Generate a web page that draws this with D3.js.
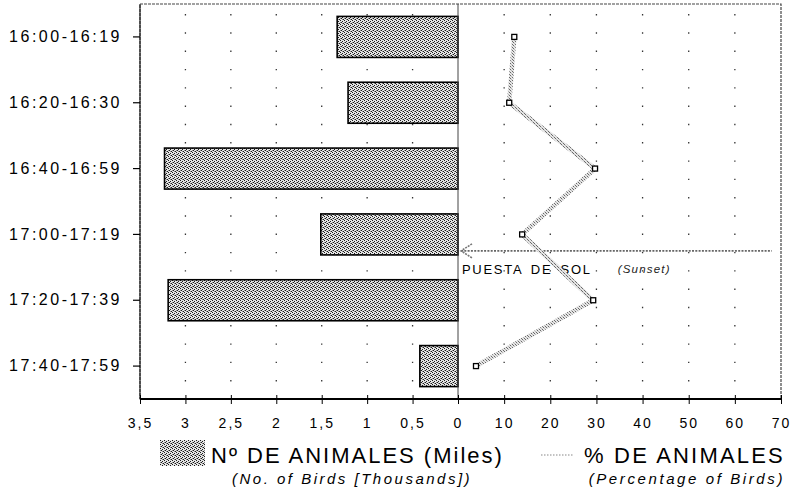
<!DOCTYPE html>
<html>
<head>
<meta charset="utf-8">
<script src="https://cdn.jsdelivr.net/npm/d3@7"></script>
<style>
  html, body { margin: 0; padding: 0; background: #fff; }
  svg { display: block; font-family: "Liberation Sans", Arial, Helvetica, sans-serif; }
</style>
</head>
<body>
<svg id="chart" width="795" height="491"></svg>
<script>
// Time intervals of the evening count
const categories = ["16:00-16:19", "16:20-16:30", "16:40-16:59", "17:00-17:19", "17:20-17:39", "17:40-17:59"];
// Number of birds per interval (thousands)
const birdsThousands = [1.33, 1.21, 3.23, 1.51, 3.19, 0.42];
// Share of all birds per interval (%)
const birdsPercent = [12.2, 11.1, 29.7, 13.9, 29.3, 3.9];
// Axis ticks
const countTicks = [3.5, 3, 2.5, 2, 1.5, 1, 0.5, 0];
const percentTicks = [10, 20, 30, 40, 50, 60, 70];
// Sunset, in minutes after midnight (17:15)
const sunsetMinutes = 17 * 60 + 15;
const timeSpan = [16 * 60, 18 * 60];

const svg = d3.select("#chart");
svg.append("rect").attr("width", 795).attr("height", 491).attr("fill", "#fff");

const plot = { left: 140, right: 781, top: 4, bottom: 399, center: 458 };

const xCount = d3.scaleLinear().domain([0, 3.5]).range([plot.center, plot.left]);
const xPct = d3.scaleLinear().domain([0, 70]).range([plot.center, plot.right]);
const y = d3.scaleBand().domain(categories).range([plot.top, plot.bottom])
  .paddingInner(0.377).paddingOuter(0.1885);
const yTime = d3.scaleLinear().domain(timeSpan).range([plot.top, plot.bottom]);

// Dithered fills
const defs = svg.append("defs");
const dither = defs.append("pattern").attr("id", "dither")
  .attr("width", 4).attr("height", 4).attr("patternUnits", "userSpaceOnUse");
dither.append("rect").attr("width", 4).attr("height", 4).attr("fill", "#e4e4e4");
[[0, 0], [2, 1], [1, 2], [3, 3]].forEach(([px, py]) =>
  dither.append("rect").attr("x", px).attr("y", py).attr("width", 1).attr("height", 1).attr("fill", "#1a1a1a"));
[[2, 3], [0, 2]].forEach(([px, py]) =>
  dither.append("rect").attr("x", px).attr("y", py).attr("width", 1).attr("height", 1).attr("fill", "#8a8a8a"));

const lineDither = defs.append("pattern").attr("id", "lineDither")
  .attr("width", 3).attr("height", 3).attr("patternUnits", "userSpaceOnUse");
lineDither.append("rect").attr("width", 3).attr("height", 3).attr("fill", "#e6e6e6");
lineDither.append("rect").attr("x", 0).attr("y", 0).attr("width", 1).attr("height", 1).attr("fill", "#6a6a6a");
lineDither.append("rect").attr("x", 1).attr("y", 1).attr("width", 1).attr("height", 1).attr("fill", "#b4b4b4");
lineDither.append("rect").attr("x", 2).attr("y", 2).attr("width", 1).attr("height", 1).attr("fill", "#6a6a6a");

// Dotted vertical grid
const gridX = countTicks.filter(d => d > 0 && d < 3.5).map(d => xCount(d))
  .concat(percentTicks.filter(d => d < 70).map(d => xPct(d)));
svg.append("g").selectAll("line").data(gridX).join("line")
  .attr("x1", d => d).attr("x2", d => d)
  .attr("y1", plot.top).attr("y2", plot.bottom)
  .attr("stroke", "#333").attr("stroke-width", 1.3)
  .attr("stroke-dasharray", "1.4,16.9").attr("stroke-dashoffset", 8.3);

// Frame
svg.append("rect")
  .attr("x", plot.left).attr("y", plot.top)
  .attr("width", plot.right - plot.left).attr("height", plot.bottom - plot.top)
  .attr("fill", "none").attr("stroke", "#444").attr("stroke-width", 1.2)
  .attr("stroke-dasharray", "3,1");
svg.append("line")
  .attr("x1", plot.left).attr("x2", plot.left).attr("y1", plot.top).attr("y2", plot.bottom)
  .attr("stroke", "#222").attr("stroke-width", 1.2);

// Bars: number of birds, growing leftwards from zero
svg.append("g").selectAll("rect").data(categories).join("rect")
  .attr("x", (d, i) => xCount(birdsThousands[i]))
  .attr("y", d => y(d))
  .attr("width", (d, i) => xCount(0) - xCount(birdsThousands[i]))
  .attr("height", y.bandwidth())
  .attr("fill", "url(#dither)")
  .attr("stroke", "#000").attr("stroke-width", 1.6);

// Centre line
svg.append("line")
  .attr("x1", plot.center).attr("x2", plot.center).attr("y1", plot.top).attr("y2", plot.bottom)
  .attr("stroke", "#444").attr("stroke-width", 1);

// Sunset arrow
const ySun = yTime(sunsetMinutes);
const sun = svg.append("g");
sun.append("line")
  .attr("x1", xPct(0) + 3).attr("x2", xPct(68))
  .attr("y1", ySun).attr("y2", ySun)
  .attr("stroke", "#666").attr("stroke-width", 1.6).attr("stroke-dasharray", "2,1.3");
sun.append("path")
  .attr("d", `M${xPct(0) + 14},${ySun - 7} L${xPct(0) + 3},${ySun} L${xPct(0) + 14},${ySun + 7}`)
  .attr("fill", "none").attr("stroke", "#777").attr("stroke-width", 1.6).attr("stroke-dasharray", "2,1");
sun.append("text")
  .attr("x", xPct(0) + 4).attr("y", ySun + 23)
  .attr("font-size", 13).attr("letter-spacing", 1.7).attr("word-spacing", 3)
  .attr("fill", "#000").text("PUESTA DE SOL");
sun.append("text")
  .attr("x", xPct(34.6)).attr("y", ySun + 22)
  .attr("font-size", 11.5).attr("font-style", "italic").attr("letter-spacing", 1.2)
  .attr("fill", "#222").text("(Sunset)");

// Percentage line
const pts = categories.map((c, i) => [xPct(birdsPercent[i]), y(c) + y.bandwidth() / 2]);
svg.append("path")
  .attr("d", d3.line()(pts))
  .attr("fill", "none").attr("stroke", "url(#lineDither)").attr("stroke-width", 4.5);
svg.append("g").selectAll("rect").data(pts).join("rect")
  .attr("x", d => d[0] - 2.5).attr("y", d => d[1] - 2.5)
  .attr("width", 5).attr("height", 5)
  .attr("fill", "#fff").attr("stroke", "#000").attr("stroke-width", 1.3);

// Category axis
const yAxis = svg.append("g").attr("transform", `translate(${plot.left},0)`)
  .call(d3.axisLeft(y).tickSize(7).tickPadding(11).tickSizeOuter(0));
yAxis.select(".domain").remove();
yAxis.selectAll(".tick line").attr("stroke", "#000").attr("stroke-width", 1.2);
yAxis.selectAll("text")
  .attr("font-size", 16).attr("letter-spacing", 2.5).attr("fill", "#000")
  .style("font-family", "'Liberation Sans', Arial, sans-serif");

// Bottom axes
const fmtComma = d => String(d).replace(".", ",");
function styleBottom(g) {
  g.select(".domain").remove();
  g.selectAll(".tick line").attr("y1", -4).attr("y2", 5).attr("stroke", "#000").attr("stroke-width", 1);
  g.selectAll("text").attr("y", 19).attr("font-size", 14).attr("letter-spacing", 2)
    .attr("fill", "#000").style("font-family", "'Liberation Sans', Arial, sans-serif");
}
svg.append("g").attr("transform", `translate(0,${plot.bottom})`)
  .call(d3.axisBottom(xCount).tickValues(countTicks).tickFormat(fmtComma))
  .call(styleBottom);
svg.append("g").attr("transform", `translate(0,${plot.bottom})`)
  .call(d3.axisBottom(xPct).tickValues(percentTicks).tickFormat(d3.format("d")))
  .call(styleBottom);
svg.append("line")
  .attr("x1", plot.left).attr("x2", plot.right).attr("y1", plot.bottom).attr("y2", plot.bottom)
  .attr("stroke", "#000").attr("stroke-width", 1.8);

// Legend
const legend = svg.append("g");
legend.append("rect").attr("x", 160).attr("y", 440).attr("width", 45).attr("height", 26)
  .attr("fill", "url(#dither)");
legend.append("text").attr("x", 211).attr("y", 463)
  .attr("font-size", 22).attr("letter-spacing", 2.0).attr("fill", "#000")
  .text("Nº DE ANIMALES (Miles)");
legend.append("text").attr("x", 232).attr("y", 484)
  .attr("font-size", 15).attr("font-style", "italic").attr("letter-spacing", 2.5).attr("fill", "#000")
  .text("(No. of Birds [Thousands])");
legend.append("line").attr("x1", 541).attr("x2", 573).attr("y1", 455).attr("y2", 455)
  .attr("stroke", "#888").attr("stroke-width", 1.2).attr("stroke-dasharray", "1.5,1.5");
legend.append("text").attr("x", 785).attr("y", 463).attr("text-anchor", "end")
  .attr("font-size", 22).attr("letter-spacing", 2.2).attr("fill", "#000")
  .text("% DE ANIMALES");
legend.append("text").attr("x", 785).attr("y", 484).attr("text-anchor", "end")
  .attr("font-size", 15).attr("font-style", "italic").attr("letter-spacing", 2.6).attr("fill", "#000")
  .text("(Percentage of Birds)");
</script>
</body>
</html>
